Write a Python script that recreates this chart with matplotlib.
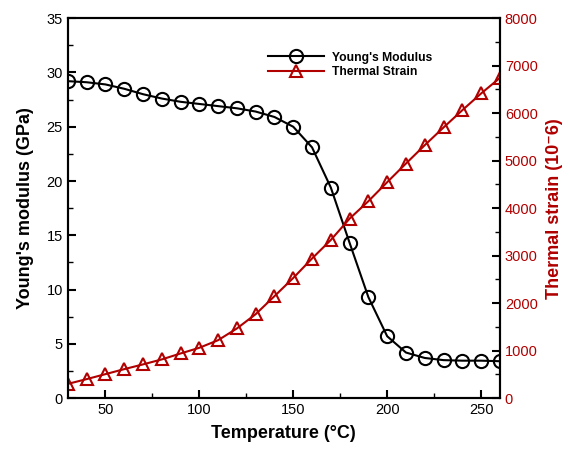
import matplotlib
matplotlib.use("Agg")
import matplotlib.pyplot as plt
from matplotlib.ticker import MultipleLocator

plt.rcParams['font.family'] = ['Liberation Sans', 'DejaVu Sans']

temperature = [30, 40, 50, 60, 70, 80, 90, 100, 110, 120, 130, 140, 150, 160,
               170, 180, 190, 200, 210, 220, 230, 240, 250, 260]
youngs_modulus = [29.2, 29.1, 28.9, 28.5, 28.0, 27.6, 27.3, 27.1, 26.9, 26.7, 26.4, 25.9,
                  25.0, 23.1, 19.4, 14.3, 9.3, 5.7, 4.2, 3.7, 3.5, 3.45, 3.45, 3.4]
thermal_strain = [300, 400, 505, 610, 710, 815, 940, 1060, 1220, 1467, 1768, 2147,
                  2530, 2940, 3330, 3780, 4147, 4547, 4940, 5326, 5699, 6063, 6415, 6743]

RED = '#b00000'

fig = plt.figure(figsize=(5.7, 4.55), dpi=100)
ax = fig.add_axes([0.119, 0.125, 0.758, 0.835])
ax2 = ax.twinx()

l1, = ax.plot(temperature, youngs_modulus, color='black', lw=1.5, marker='o',
              markersize=9.5, markerfacecolor='none', markeredgewidth=1.5,
              label="Young's Modulus", zorder=3)
l2, = ax2.plot(temperature, thermal_strain, color=RED, lw=1.5, marker='^',
               markersize=8.5, markerfacecolor='none', markeredgewidth=1.5,
               label='Thermal Strain')

ax.set_xlim(30, 260)
ax.set_ylim(0, 35)
ax2.set_ylim(0, 8000)

ax.xaxis.set_major_locator(MultipleLocator(50))
ax.xaxis.set_minor_locator(MultipleLocator(25))
ax.yaxis.set_major_locator(MultipleLocator(5))
ax.yaxis.set_minor_locator(MultipleLocator(2.5))
ax2.yaxis.set_major_locator(MultipleLocator(1000))
ax2.yaxis.set_minor_locator(MultipleLocator(500))

ax.tick_params(axis='both', which='major', direction='in', length=6, width=1.5,
               labelsize=10.5, top=False)
ax.tick_params(axis='both', which='minor', direction='in', length=3.5, width=1, top=False)
ax.tick_params(axis='y', which='both', right=False)
ax2.tick_params(axis='y', which='major', direction='in', length=6, width=1.5,
                labelsize=10.5, labelcolor=RED)
ax2.tick_params(axis='y', which='minor', direction='in', length=3.5, width=1)

for a in (ax, ax2):
    for s in a.spines.values():
        s.set_linewidth(1.5)

ax.set_xlabel('Temperature (°C)', fontsize=13, fontweight='bold', labelpad=6)
ax.set_ylabel("Young's modulus (GPa)", fontsize=13, fontweight='bold', labelpad=9)
ax2.set_ylabel('Thermal strain (10⁻6)', fontsize=13, fontweight='bold', color=RED,
               labelpad=6)

leg = ax.legend([l1, l2], ["Young's Modulus", 'Thermal Strain'], loc='upper left',
                bbox_to_anchor=(0.452, 0.925), frameon=False,
                prop={'weight': 'bold', 'size': 8.7}, handlelength=4.6,
                handletextpad=0.7, labelspacing=0.2, borderaxespad=0)

fig.savefig('out.png', dpi=100)
